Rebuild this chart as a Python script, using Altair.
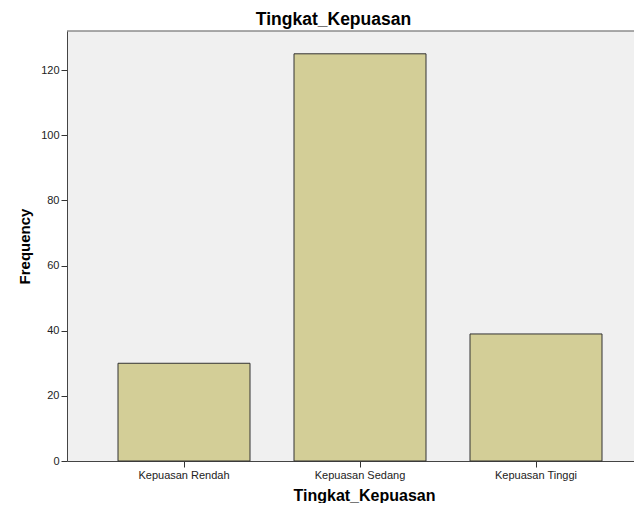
import altair as alt
import pandas as pd

categories = ["Kepuasan Rendah", "Kepuasan Sedang", "Kepuasan Tinggi"]
frequencies = [30, 125, 39]
y_ticks = [0, 20, 40, 60, 80, 100, 120]

df = pd.DataFrame({"Tingkat_Kepuasan": categories, "Frequency": frequencies})

FONT = "Liberation Sans"
W, H = 567, 430

bars = alt.Chart(df).mark_bar(
    fill="#D3CE97", stroke="#333333", strokeWidth=1
).encode(
    x=alt.X(
        "Tingkat_Kepuasan:N",
        sort=categories,
        scale=alt.Scale(paddingInner=0.25, paddingOuter=0.2358, align=0.6145),
        axis=alt.Axis(
            title="Tingkat_Kepuasan",
            labelAngle=0,
            labelFontSize=11,
            labelFont=FONT,
            labelColor="#222222",
            labelPadding=2,
            tickSize=6,
            tickColor="#333333",
            domainColor="#444444",
            titleFont=FONT,
            titleFontSize=16,
            titleFontWeight="bold",
            titleColor="#000000",
            titleX=297,
            titleY=39,
            titleBaseline="alphabetic",
            titleAnchor="middle",
        ),
    ),
    y=alt.Y(
        "Frequency:Q",
        scale=alt.Scale(domain=[0, 132], nice=False),
        axis=alt.Axis(
            title="Frequency",
            values=y_ticks,
            grid=False,
            labelFontSize=11,
            labelFont=FONT,
            labelColor="#222222",
            labelPadding=2,
            tickSize=6,
            tickColor="#333333",
            domainColor="#444444",
            titleFont=FONT,
            titleFontSize=15,
            titleFontWeight="bold",
            titleColor="#000000",
            titleX=-38,
            titleY=215,
            titleAngle=270,
            titleBaseline="alphabetic",
            titleAnchor="middle",
        ),
    ),
)

top_border = alt.Chart(pd.DataFrame({"v": [0]})).mark_rule(
    color="#555555", strokeWidth=1
).encode(y=alt.value(0))

chart = alt.layer(bars, top_border).properties(
    width=W,
    height=H,
    background="#FFFFFF",
    title=alt.TitleParams(
        "Tingkat_Kepuasan",
        font=FONT,
        fontSize=17.5,
        fontWeight="bold",
        color="#000000",
        anchor="middle",
        baseline="alphabetic",
        offset=8,
        dy=20,
        dx=-17,
    ),
    padding={"left": 59, "top": 23, "right": 0, "bottom": 42},
    autosize=alt.AutoSizeParams(type="none"),
).configure_view(
    fill="#F0F0F0", stroke="transparent"
)

chart.save("out.html", embed_options={"renderer": "svg", "actions": False})
